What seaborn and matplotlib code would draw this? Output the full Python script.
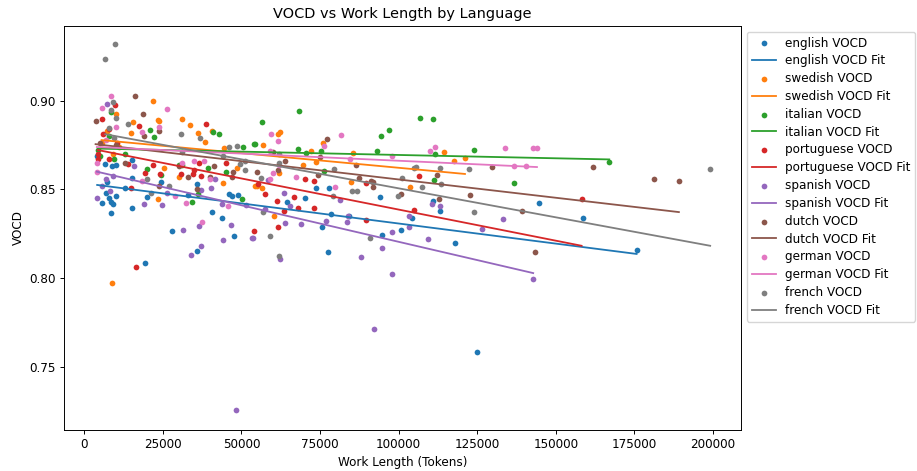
import matplotlib
matplotlib.use("Agg")
import matplotlib.pyplot as plt
import seaborn as sns
import numpy as np
import pandas as pd

languages = ["english", "swedish", "italian", "portuguese", "spanish", "dutch", "german", "french"]

english_x = [4100, 6500, 8700, 10000, 15300, 15200, 7100, 13000, 6900, 10000, 7950, 8500, 9000, 5500,
             8400, 15100, 20050, 24400, 32900, 40600, 43700, 47700, 35850, 27900, 19400, 46100, 47100,
             70200, 73700, 77700, 64600, 78400, 84200, 75700, 77600, 94800, 100700, 94050, 110900,
             113200, 104300, 144500, 158500, 118000, 175700, 124800, 49000, 36000]
english_y = [0.8690, 0.8641, 0.8632, 0.8640, 0.8666, 0.8566, 0.8540, 0.8506, 0.8481, 0.8464, 0.8450,
             0.8429, 0.8416, 0.8421, 0.8365, 0.8397, 0.8455, 0.8543, 0.8468, 0.8371, 0.8337, 0.8239,
             0.8152, 0.8267, 0.8083, 0.8473, 0.8464, 0.8451, 0.8508, 0.8506, 0.8427, 0.8359, 0.8350,
             0.8289, 0.8149, 0.8241, 0.8269, 0.8455, 0.8433, 0.8378, 0.8339, 0.8425, 0.8340, 0.8198,
             0.8156, 0.7583, 0.8470, 0.8530]

swedish_x = [21850, 31200, 33600, 36100, 38500, 44400, 23350, 23900, 15400, 14850, 40600, 10000, 7100,
             5500, 8810, 23350, 44200, 54300, 56700, 61700, 62250, 72100, 76000, 85600, 73700, 69500,
             84900, 103500, 114500, 117500, 121100, 60400, 54900, 56400, 30000, 25500, 62000, 48500,
             11000, 9200]
swedish_y = [0.9000, 0.8899, 0.8863, 0.8820, 0.8767, 0.8732, 0.8890, 0.8886, 0.8882, 0.8818, 0.8831,
             0.8923, 0.8830, 0.8760, 0.7970, 0.8447, 0.8534, 0.8519, 0.8750, 0.8810, 0.8822, 0.8718,
             0.8760, 0.8707, 0.8656, 0.8639, 0.8540, 0.8512, 0.8709, 0.8658, 0.8675, 0.8351, 0.8520,
             0.8510, 0.8570, 0.8620, 0.8595, 0.8620, 0.8740, 0.8700]

italian_x = [8400, 20900, 22300, 40800, 42900, 50600, 54200, 56400, 68300, 54000, 67900, 70400, 75300,
             94500, 96900, 106800, 110900, 111550, 93000, 76300, 111300, 124050, 167000, 136700, 19850,
             34150, 36300, 50250, 39400, 31000, 5000, 9500, 8000, 13000, 24500, 45000, 30000, 4500]
italian_y = [0.8935, 0.8835, 0.8797, 0.8825, 0.8810, 0.8737, 0.8758, 0.8880, 0.8942, 0.8758, 0.8729,
             0.8707, 0.8716, 0.8801, 0.8833, 0.8902, 0.8897, 0.8700, 0.8716, 0.8602, 0.8553, 0.8722,
             0.8656, 0.8534, 0.8615, 0.8430, 0.8472, 0.8444, 0.8619, 0.8640, 0.8690, 0.8670, 0.8800,
             0.8700, 0.8580, 0.8600, 0.8635, 0.8720]

portuguese_x = [5700, 9760, 17400, 38600, 4500, 8000, 13800, 19300, 22000, 24200, 14850, 16400, 54100,
                37000, 57600, 66600, 70100, 73100, 61200, 68100, 73200, 61500, 89500, 89700, 105000,
                158200, 36500, 30800, 34500, 55300, 8000, 6000, 10500, 4300, 45000, 35000, 106500,
                63500]
portuguese_y = [0.8895, 0.8976, 0.8859, 0.8867, 0.8671, 0.8671, 0.8643, 0.8594, 0.8640, 0.8585, 0.8506,
                0.8064, 0.8267, 0.8575, 0.8474, 0.8459, 0.8558, 0.8545, 0.8436, 0.8397, 0.8393, 0.8289,
                0.8327, 0.8534, 0.8384, 0.8444, 0.8647, 0.8587, 0.8587, 0.8530, 0.8840, 0.8810, 0.8760,
                0.8700, 0.8650, 0.8610, 0.8577, 0.8380]

spanish_x = [7100, 6800, 9200, 15800, 5700, 8200, 19100, 24700, 26400, 36400, 46600, 44000, 37200, 33900,
             31300, 53400, 51300, 43900, 41600, 40200, 37000, 58500, 63600, 81300, 110700, 113200,
             103200, 65400, 69100, 57500, 53600, 63800, 62250, 76800, 83600, 84000, 88100, 94600, 98000,
             98000, 92050, 103300, 109400, 133300, 126600, 142800, 48200, 4000]
spanish_y = [0.8980, 0.8558, 0.8575, 0.8632, 0.8519, 0.8491, 0.8416, 0.8414, 0.8481, 0.8293, 0.8297,
             0.8213, 0.8181, 0.8132, 0.8273, 0.8224, 0.8412, 0.8416, 0.8559, 0.8506, 0.8495, 0.8553,
             0.8478, 0.8440, 0.8417, 0.8408, 0.8350, 0.8408, 0.8305, 0.8388, 0.8227, 0.8312, 0.8106,
             0.8322, 0.8314, 0.8350, 0.8117, 0.8168, 0.8258, 0.8023, 0.7714, 0.8289, 0.8220, 0.8331,
             0.8275, 0.7994, 0.7256, 0.8450]

dutch_x = [3600, 16100, 18600, 23900, 18900, 13000, 47200, 30000, 33000, 41350, 23850, 77200, 61500,
           74300, 86400, 87500, 91200, 91900, 91700, 100700, 112300, 112700, 129800, 161800, 181100,
           189150, 122800, 139300, 143400, 60000, 10000, 5000, 40000, 36000, 47000, 55000, 64000, 75000]
dutch_y = [0.8887, 0.9027, 0.8923, 0.8829, 0.8799, 0.8650, 0.8596, 0.8630, 0.8570, 0.8633, 0.8520,
           0.8782, 0.8609, 0.8583, 0.8637, 0.8566, 0.8550, 0.8540, 0.8512, 0.8476, 0.8580, 0.8446,
           0.8624, 0.8624, 0.8557, 0.8549, 0.8467, 0.8380, 0.8145, 0.8710, 0.8750, 0.8760, 0.8570,
           0.8500, 0.8570, 0.8600, 0.8660, 0.8680]

german_x = [26400, 23900, 18350, 8500, 5700, 4000, 4040, 18450, 28850, 32250, 37300, 45800, 35000, 38000,
            59300, 61500, 59100, 62000, 76200, 81650, 84500, 79800, 109900, 111600, 133900, 142900,
            144000, 136700, 140400, 59000, 60000, 67500, 31000, 40000, 10000, 7000, 98000]
german_y = [0.8953, 0.8850, 0.8822, 0.9027, 0.8957, 0.8650, 0.8600, 0.8549, 0.8463, 0.8425, 0.8318,
            0.8406, 0.8660, 0.8660, 0.8812, 0.8774, 0.8718, 0.8635, 0.8746, 0.8805, 0.8670, 0.8512,
            0.8718, 0.8737, 0.8733, 0.8732, 0.8732, 0.8633, 0.8632, 0.8560, 0.8590, 0.8570, 0.8650,
            0.8560, 0.8850, 0.8780, 0.8690]

french_x = [9860, 6700, 9000, 8500, 10000, 8000, 9500, 13800, 46100, 48500, 51100, 21100, 20050, 30700,
            31000, 36700, 44100, 51100, 49600, 56200, 62000, 62000, 79100, 79300, 85200, 86700, 101000,
            105000, 105600, 107300, 99700, 113000, 113400, 122400, 124050, 199100, 59100, 62000, 90900,
            57000, 27000]
french_y = [0.9320, 0.9235, 0.8990, 0.8950, 0.8900, 0.8848, 0.8790, 0.8867, 0.8740, 0.8745, 0.8610,
            0.8478, 0.8557, 0.8810, 0.8710, 0.8790, 0.8690, 0.8660, 0.8645, 0.8562, 0.8700, 0.8650,
            0.8463, 0.8615, 0.8489, 0.8493, 0.8562, 0.8622, 0.8625, 0.8515, 0.8463, 0.8622, 0.8529,
            0.8613, 0.8371, 0.8615, 0.8237, 0.8126, 0.8226, 0.8370, 0.8520]

# linear-fit values at the shortest and longest work of each language
fit_start = [0.8525, 0.8778, 0.8730, 0.8722, 0.8600, 0.8755, 0.8739, 0.8811]
fit_end = [0.8136, 0.8587, 0.8669, 0.8182, 0.8028, 0.8372, 0.8626, 0.8182]

xs = [english_x, swedish_x, italian_x, portuguese_x, spanish_x, dutch_x, german_x, french_x]
ys = [english_y, swedish_y, italian_y, portuguese_y, spanish_y, dutch_y, german_y, french_y]

colors = sns.color_palette("tab10")

k = 0.868
plt.rcParams.update({
    "font.size": 10 * k,
    "axes.titlesize": 12 * k,
    "axes.labelsize": 10 * k,
    "xtick.labelsize": 10 * k,
    "ytick.labelsize": 10 * k,
    "legend.fontsize": 10 * k,
    "axes.linewidth": 0.8 * k,
    "xtick.major.size": 3.5 * k,
    "ytick.major.size": 3.5 * k,
    "xtick.major.width": 0.8 * k,
    "ytick.major.width": 0.8 * k,
    "xtick.major.pad": 3.5 * k,
    "ytick.major.pad": 3.5 * k,
    "axes.titlepad": 6 * k,
    "axes.labelpad": 4 * k,
    "legend.handlelength": 2.0,
    "legend.labelspacing": 0.4,
})

fig = plt.figure(figsize=(9.17, 4.71), dpi=100)
ax = fig.add_axes([0.0701, 0.0870, 0.7376, 0.8584])

for i, lang in enumerate(languages):
    df = pd.DataFrame({"x": xs[i], "y": ys[i]})
    sns.scatterplot(data=df, x="x", y="y", ax=ax, color=colors[i], s=17, linewidth=0,
                    label=f"{lang} VOCD")
    fit_df = pd.DataFrame({"x": [min(xs[i]), max(xs[i])], "y": [fit_start[i], fit_end[i]]})
    sns.lineplot(data=fit_df, x="x", y="y", ax=ax, color=colors[i], linewidth=1.5 * k,
                 label=f"{lang} VOCD Fit")

ax.set_title("VOCD vs Work Length by Language")
ax.set_xlabel("Work Length (Tokens)")
ax.set_ylabel("VOCD")
ax.set_xticks([0, 25000, 50000, 75000, 100000, 125000, 150000, 175000, 200000])
ax.set_yticks([0.75, 0.80, 0.85, 0.90])
ax.set_xlim(-6360, 208800)
ax.set_ylim(0.7143, 0.9423)
ax.legend(loc="upper left", bbox_to_anchor=(1, 1))

fig.savefig("out.png", dpi=100)
